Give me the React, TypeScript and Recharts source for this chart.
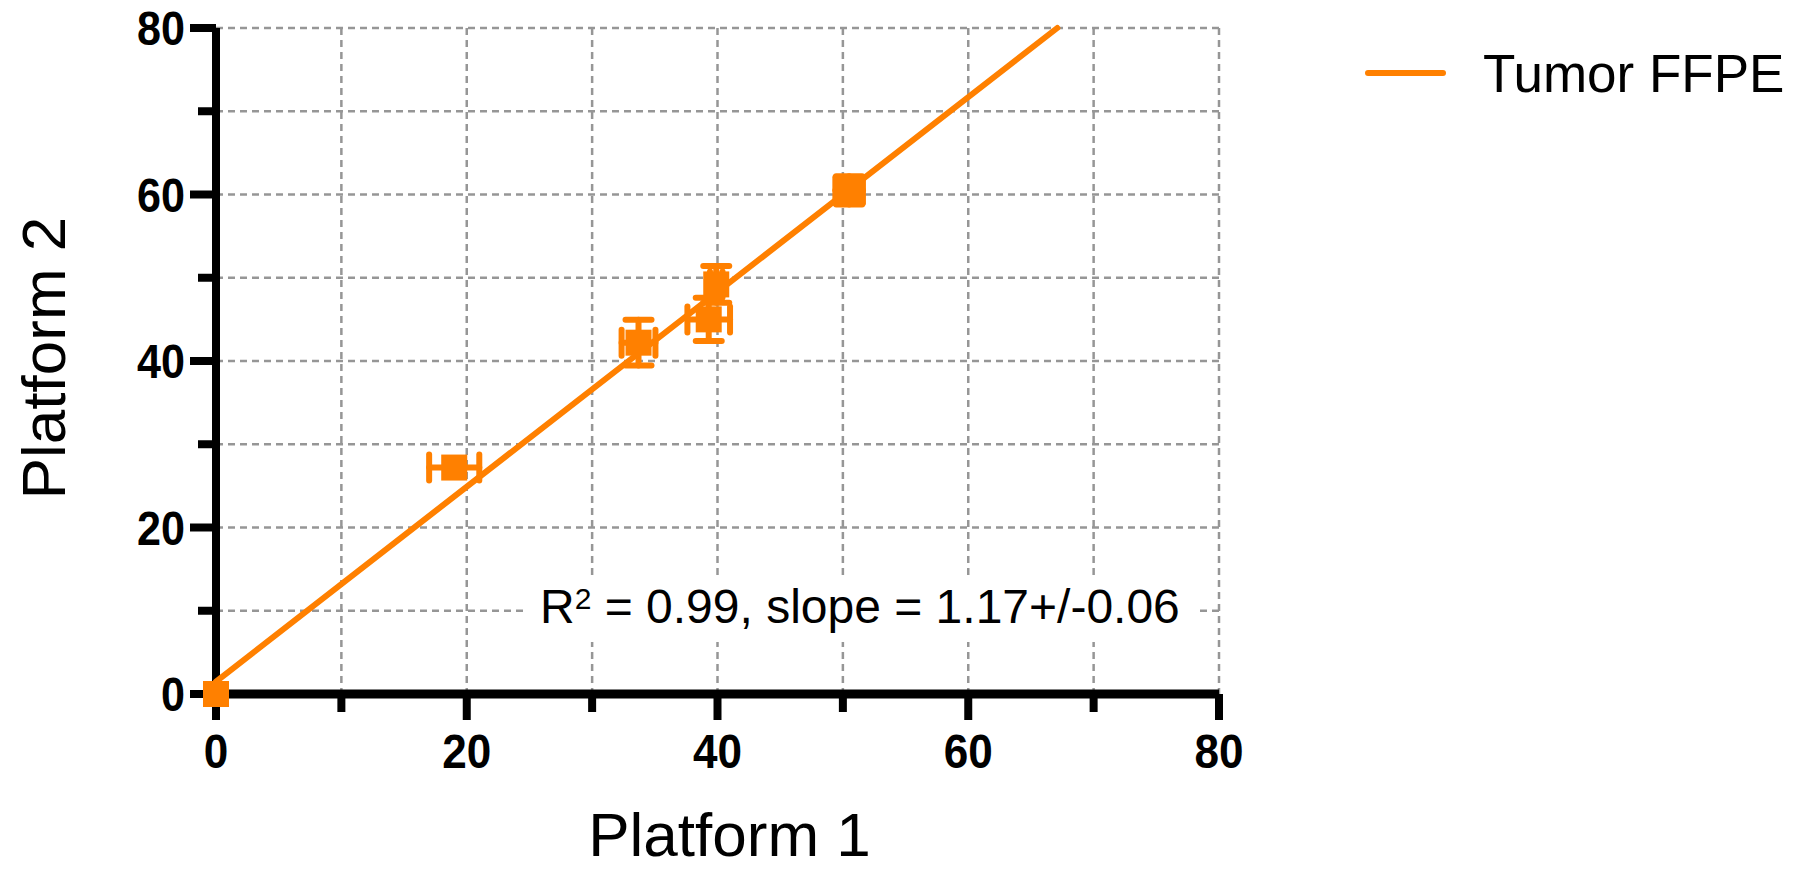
import { ScatterChart, Scatter, XAxis, YAxis, CartesianGrid, ErrorBar } from 'recharts'

const ORANGE = '#FF8000'
const FONT = '"Liberation Sans", Arial, Helvetica, sans-serif'

// axis ticks (minor every 10, labelled every 20)
const axisTicks = [0, 10, 20, 30, 40, 50, 60, 70, 80]
const labelledTicks = [0, 20, 40, 60, 80]

// Tumor FFPE: mean per platform with SD
const platform1 = [0, 19.0, 33.7, 39.3, 39.9, 50.5]
const platform2 = [0, 27.2, 42.2, 45.0, 49.2, 60.5]
const sd1 = [0, 2.0, 1.35, 1.7, 0.5, 1.1]
const sd2 = [0, 0, 2.75, 2.6, 2.2, 1.7]

// linear fit, drawn between its end points
const fitX = [0, 67.1]
const fitY = [1.5, 80]

const seriesName = 'Tumor FFPE'
const fitR2 = '0.99'
const fitSlope = '1.17+/-0.06'

const points = platform1.map((x, i) => ({ x, y: platform2[i], ex: sd1[i], ey: sd2[i] }))
const fitLine = fitX.map((x, i) => ({ x, y: fitY[i] }))

const W = 1793
const H = 871
const MARK = 26
const MARGIN = { top: 28, right: 574, bottom: 0, left: 0 }

function XTick({ x, y, payload }: any) {
  const v = payload.value
  const major = labelledTicks.includes(v)
  return (
    <g transform={`translate(${x},${y})`}>
      <line x1={0} y1={0} x2={0} y2={major ? 26 : 18} stroke="#000" strokeWidth={8} />
      {major && (
        <text transform="translate(0,74) scale(0.9,1)" textAnchor="middle"
          fontFamily={FONT} fontWeight={700} fontSize={49} fill="#000">{v}</text>
      )}
    </g>
  )
}

function YTick({ x, y, payload }: any) {
  const v = payload.value
  const major = labelledTicks.includes(v)
  return (
    <g transform={`translate(${x},${y})`}>
      <line x1={0} y1={0} x2={major ? -26 : -18} y2={0} stroke="#000" strokeWidth={8} />
      {major && (
        <text transform="translate(-31,17) scale(0.88,1)" textAnchor="end"
          fontFamily={FONT} fontWeight={700} fontSize={49} fill="#000">{v}</text>
      )}
    </g>
  )
}

const SquareMark = ({ cx, cy }: any) => (
  <rect x={cx - MARK / 2} y={cy - MARK / 2} width={MARK} height={MARK} fill={ORANGE} />
)

const xTitle = ({ viewBox }: any) => (
  <text x={viewBox.x + viewBox.width / 2 + 12} y={viewBox.y + 162} textAnchor="middle"
    fontFamily={FONT} fontSize={62} fill="#000">Platform 1</text>
)

const yTitle = ({ viewBox }: any) => {
  const cx = viewBox.x + 65
  const cy = viewBox.y + viewBox.height / 2 - 3
  return (
    <text x={cx} y={cy} transform={`rotate(-90 ${cx} ${cy})`} textAnchor="middle"
      fontFamily={FONT} fontSize={62} fill="#000">Platform 2</text>
  )
}

export default function App() {
  return (
    <div style={{ position: 'absolute', left: 0, top: 0, width: W, height: H, background: '#fff' }}>
      {/* frame: grid, fit line, axes, titles */}
      <ScatterChart width={W} height={H} margin={MARGIN}>
        <CartesianGrid stroke="#969696" strokeWidth={2.5} strokeDasharray="7 5" />
        <XAxis type="number" dataKey="x" domain={[0, 80]} ticks={axisTicks} interval={0}
          height={177} tickSize={0} tickMargin={0} tickLine={false} tick={<XTick />}
          axisLine={{ stroke: '#000', strokeWidth: 9 }} label={{ content: xTitle }} />
        <YAxis type="number" dataKey="y" domain={[0, 80]} ticks={axisTicks} interval={0}
          width={216} tickSize={0} tickMargin={0} tickLine={false} tick={<YTick />}
          axisLine={{ stroke: '#000', strokeWidth: 8 }} label={{ content: yTitle }} />
        <Scatter data={fitLine} isAnimationActive={false} shape={() => <g />}
          line={{ stroke: ORANGE, strokeWidth: 6, strokeLinecap: 'round' }} />
      </ScatterChart>

      <svg width={W} height={H} style={{ position: 'absolute', left: 0, top: 0, pointerEvents: 'none' }}>
        <rect x={528} y={578} width={667} height={64} fill="#fff" />
        <text x={540} y={623} fontFamily={FONT} fontSize={48} fill="#000">
          R<tspan dy={-14} fontSize={30}>2</tspan>
          <tspan dy={14}>{` = ${fitR2}, slope = ${fitSlope}`}</tspan>
        </text>

        <line x1={1368} y1={73} x2={1443} y2={73} stroke={ORANGE} strokeWidth={6} strokeLinecap="round" />
        <text x={1483} y={92} fontFamily={FONT} fontSize={53} fill="#000">{seriesName}</text>
      </svg>

      {/* data points on the same scales, kept above the axes */}
      <div style={{ position: 'absolute', left: 0, top: 0 }}>
        <ScatterChart width={W} height={H} margin={MARGIN}>
          <XAxis type="number" dataKey="x" domain={[0, 80]} ticks={axisTicks} height={177}
            tick={false} tickLine={false} axisLine={false} />
          <YAxis type="number" dataKey="y" domain={[0, 80]} ticks={axisTicks} width={216}
            tick={false} tickLine={false} axisLine={false} />
          <Scatter name={seriesName} data={points} fill={ORANGE} shape={SquareMark} isAnimationActive={false}>
            <ErrorBar dataKey="ex" direction="x" width={13} stroke={ORANGE} strokeWidth={6}
              strokeLinecap="round" isAnimationActive={false} />
            <ErrorBar dataKey="ey" direction="y" width={13} stroke={ORANGE} strokeWidth={6}
              strokeLinecap="round" isAnimationActive={false} />
          </Scatter>
        </ScatterChart>
      </div>
    </div>
  )
}
